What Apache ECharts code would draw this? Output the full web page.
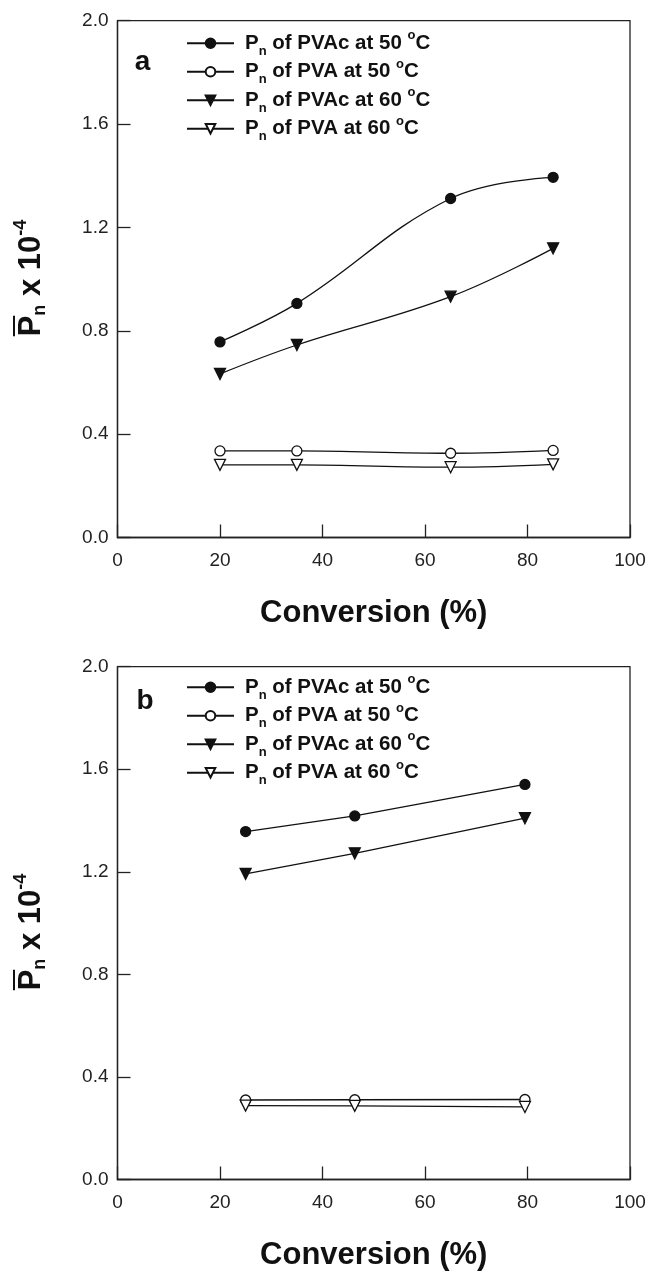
<!DOCTYPE html>
<html><head><meta charset="utf-8">
<script src="https://cdn.jsdelivr.net/npm/echarts@6/dist/echarts.min.js"></script>
<style>html,body{margin:0;padding:0;background:#fff}#c{width:650px;height:1272px}</style>
</head><body><div id="c"></div>
<script>
// ---- data ----
const seriesNames = ['PVAc at 50', 'PVA at 50', 'PVAc at 60', 'PVA at 60'];
const xTicks = [0, 20, 40, 60, 80, 100];
const yTicks = [0.0, 0.4, 0.8, 1.2, 1.6, 2.0];
// panel a
const xA = [20, 35, 65, 85];
const pvac50A = [0.757, 0.906, 1.312, 1.394];
const pva50A = [0.335, 0.335, 0.326, 0.337];
const pvac60A = [0.633, 0.745, 0.932, 1.119];
const pva60A = [0.281, 0.281, 0.272, 0.283];
// panel b
const xB = [25, 46.3, 79.5];
const pvac50B = [1.357, 1.418, 1.541];
const pva50B = [0.310, 0.311, 0.312];
const pvac60B = [1.192, 1.272, 1.409];
const pva60B = [0.288, 0.287, 0.283];

const INK = '#111';
const FONT = '"Liberation Sans", Arial, sans-serif';

function measure(txt, size) {
  const c = document.createElement('canvas').getContext('2d');
  c.font = 'bold ' + size + 'px "Liberation Sans"';
  return c.measureText(txt).width;
}

const styles = [
  { symbol: 'circle', fill: INK },
  { symbol: 'circle', fill: '#fff' },
  { symbol: 'triangle', fill: INK },
  { symbol: 'triangle', fill: '#fff' }
];

function mkSeries(grid, xs, arrs, smooth) {
  return arrs.map((arr, k) => ({
    type: 'line',
    name: seriesNames[k],
    xAxisIndex: grid, yAxisIndex: grid,
    data: xs.map((x, i) => [x, arr[i]]),
    smooth: smooth,
    symbol: styles[k].symbol,
    symbolSize: styles[k].symbol === 'circle' ? 10 : 11,
    symbolRotate: styles[k].symbol === 'triangle' ? 180 : 0,
    showAllSymbol: true,
    lineStyle: { color: INK, width: 1.3 },
    itemStyle: { color: styles[k].fill, borderColor: INK, borderWidth: 1.3 },
    emphasis: { disabled: true }
  }));
}

const lineSt = { color: '#222', width: 1.3 };
function mkX(i) {
  return {
    gridIndex: i, type: 'value', min: 0, max: 100, interval: 20,
    axisLine: { show: true, onZero: false, lineStyle: lineSt },
    axisTick: { show: true, inside: true, length: 13, lineStyle: lineSt },
    axisLabel: { fontFamily: FONT, fontSize: 19, color: '#222', margin: 14 },
    splitLine: { show: false },
    name: 'Conversion (%)', nameLocation: 'middle', nameGap: 76,
    nameTextStyle: { fontFamily: FONT, fontSize: 31, fontWeight: 'bold', color: INK, verticalAlign: 'middle' }
  };
}
function mkY(i) {
  return {
    gridIndex: i, type: 'value', min: 0, max: 2, interval: 0.4,
    axisLine: { show: true, onZero: false, lineStyle: lineSt },
    axisTick: { show: true, inside: true, length: 13, lineStyle: lineSt },
    axisLabel: { fontFamily: FONT, fontSize: 19, color: '#222', margin: 9, formatter: v => v.toFixed(1) },
    splitLine: { show: false }
  };
}
function mkLegend(top) {
  return {
    orient: 'vertical', left: 186, top: top, padding: 0,
    itemWidth: 47, itemHeight: 12, itemGap: 0,
    data: seriesNames,
    selectedMode: false,
    formatter: n => '{p|P}{s|n}{b| of ' + n + ' }{o|o}{b|C}',
    textStyle: {
      fontFamily: FONT, fontWeight: 'bold', fontSize: 20.5, color: INK,
      rich: {
        p: { fontFamily: FONT, fontWeight: 'bold', fontSize: 20.5, color: INK, lineHeight: 28.5, padding: [0, 0, 0, 6] },
        b: { fontFamily: FONT, fontWeight: 'bold', fontSize: 20.5, color: INK, lineHeight: 28.5 },
        s: { fontFamily: FONT, fontWeight: 'bold', fontSize: 13, color: INK, lineHeight: 13, verticalAlign: 'bottom' },
        o: { fontFamily: FONT, fontWeight: 'bold', fontSize: 13, color: INK, lineHeight: 13, verticalAlign: 'top' }
      }
    }
  };
}
function yTitle(cx, cy) {
  const pw = measure('P', 31);
  const W = pw + measure('n', 18) + measure(' x 10', 31) + measure('-4', 18);
  return {
    type: 'group', x: cx, y: cy + W / 2, rotation: Math.PI / 2,
    children: [
      { type: 'text', x: 0, y: 0, style: {
          text: '{m|P}{s|n}{m| x 10}{u|-4}', align: 'left', verticalAlign: 'middle', fill: INK,
          rich: {
            m: { fontFamily: FONT, fontWeight: 'bold', fontSize: 31, lineHeight: 37, fill: INK },
            s: { fontFamily: FONT, fontWeight: 'bold', fontSize: 18, lineHeight: 18, verticalAlign: 'bottom', fill: INK },
            u: { fontFamily: FONT, fontWeight: 'bold', fontSize: 18, lineHeight: 18, verticalAlign: 'top', fill: INK }
          } } },
      { type: 'line', shape: { x1: 0, y1: -17, x2: pw, y2: -17 }, style: { stroke: INK, lineWidth: 2 } }
    ]
  };
}
function panelLabel(t, x, y) {
  return { type: 'text', x: x, y: y, style: { text: t, fontFamily: FONT, fontWeight: 'bold', fontSize: 28, fill: INK, align: 'center', verticalAlign: 'middle' } };
}

const chart = echarts.init(document.getElementById('c'), null, { renderer: 'canvas' });
chart.setOption({
  animation: false,
  backgroundColor: '#fff',
  grid: [
    { left: 117.5, top: 20.7, width: 512.5, height: 516.8, show: true, borderColor: '#222', borderWidth: 1.3, backgroundColor: 'transparent' },
    { left: 117.5, top: 666.7, width: 512.5, height: 515.3, show: true, borderColor: '#222', borderWidth: 1.3, backgroundColor: 'transparent' }
  ],
  xAxis: [mkX(0), mkX(1)],
  yAxis: [mkY(0), mkY(1)],
  legend: [mkLegend(29), mkLegend(673)],
  series: [].concat(
    mkSeries(0, xA, [pvac50A, pva50A, pvac60A, pva60A], 0.4),
    mkSeries(1, xB, [pvac50B, pva50B, pvac60B, pva60B], false)
  ),
  graphic: [
    yTitle(31, 278),
    yTitle(31, 932),
    panelLabel('a', 142.5, 62.5),
    panelLabel('b', 145, 701)
  ]
});
</script>
</body></html>
